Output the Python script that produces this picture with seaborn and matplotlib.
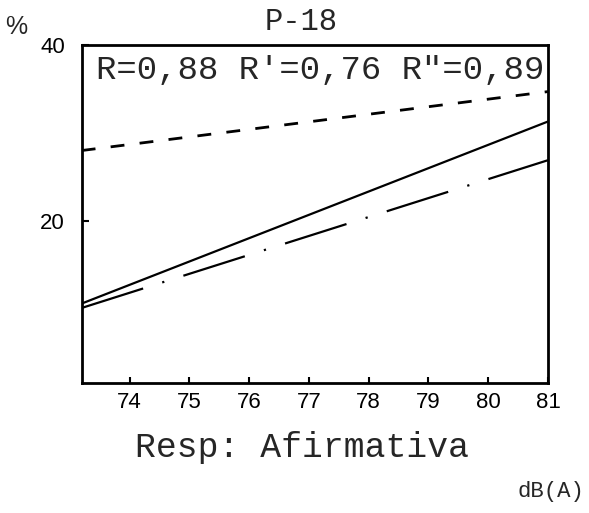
import numpy as np
import pandas as pd
import matplotlib.pyplot as plt
import seaborn as sns

# values (line ends at the left and right edge)
db = [73.2, 81.0]
resp_r = [10.6, 31.3]    # solid
resp_r1 = [28.0, 34.7]   # dashed
resp_r2 = [10.1, 26.9]   # dash-dot
xticks = [74, 75, 76, 77, 78, 79, 80, 81]
yticks = [20, 40]

df = pd.DataFrame({
    "dB": db * 3,
    "pct": resp_r + resp_r1 + resp_r2,
    "serie": ["R"] * 2 + ["R'"] * 2 + ['R"'] * 2,
})

sns.set_style("ticks")
mono = "Liberation Mono"
sans = "Liberation Sans"

fig = plt.figure(figsize=(5.89, 5.13), dpi=100)
ax = fig.add_axes([0.1387, 0.254, 0.7917, 0.6583])

sns.lineplot(data=df[df.serie == "R"], x="dB", y="pct", color="black", lw=1.6, ax=ax)
sns.lineplot(data=df[df.serie == "R'"], x="dB", y="pct", color="black", lw=2.0,
             dashes=(5, 5.5), ax=ax)
sns.lineplot(data=df[df.serie == 'R"'], x="dB", y="pct", color="black", lw=1.6,
             dashes=(29, 9, 1, 9), ax=ax)

ax.set_xlim(73.2, 81)
ax.set_ylim(1.6, 40)
ax.set_xticks(xticks)
ax.set_yticks(yticks)
ax.set_xticklabels([str(t) for t in xticks], fontfamily=sans, fontsize=16)
ax.set_yticklabels([str(t) for t in yticks], fontfamily=sans, fontsize=16)
ax.tick_params(axis="x", direction="in", length=4, width=1.5, pad=7, colors="black")
ax.tick_params(axis="y", direction="in", length=5, width=1.5, pad=12, colors="black")
ax.set_xlabel("")
ax.set_ylabel("")
for s in ax.spines.values():
    s.set_linewidth(2)
    s.set_color("black")

ax.text(0.03, 0.925, "R=0,88 R'=0,76 R\"=0,89", transform=ax.transAxes,
        fontfamily=mono, fontsize=24.5, va="center", ha="left")

fig.text(301 / 589, 1 - 22 / 513, "P-18", fontfamily=mono, fontsize=22,
         ha="center", va="center")
fig.text(16 / 589, 1 - 27 / 513, "%", fontfamily=sans, fontsize=18,
         ha="center", va="center")
fig.text(302 / 589, 1 - 447 / 513, "Resp: Afirmativa", fontfamily=mono, fontsize=25,
         ha="center", va="center")
fig.text(584 / 589, 1 - 492 / 513, "dB(A)", fontfamily=mono, fontsize=16,
         ha="right", va="center")

fig.savefig("out.png", dpi=100, facecolor="white")
